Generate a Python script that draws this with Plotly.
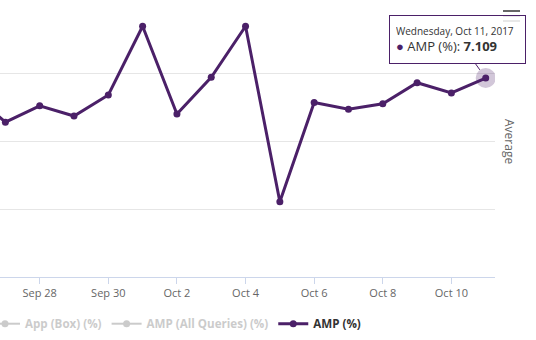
import plotly.graph_objects as go

# ---- data ----
dates = ["2017-09-26", "2017-09-27", "2017-09-28", "2017-09-29", "2017-09-30",
         "2017-10-01", "2017-10-02", "2017-10-03", "2017-10-04", "2017-10-05",
         "2017-10-06", "2017-10-07", "2017-10-08", "2017-10-09", "2017-10-10",
         "2017-10-11"]
amp_pct = [6.90, 6.46, 6.70, 6.55, 6.86, 7.87, 6.58, 7.12, 7.87, 5.29,
           6.75, 6.65, 6.73, 7.04, 6.89, 7.109]
tick_dates = ["2017-09-28", "2017-09-30", "2017-10-02", "2017-10-04",
              "2017-10-06", "2017-10-08", "2017-10-10"]
tick_labels = ["Sep 28", "Sep 30", "Oct 2", "Oct 4", "Oct 6", "Oct 8", "Oct 10"]
series_names = ["App (Box) (%)", "AMP (All Queries) (%)", "AMP (%)"]

PURPLE = "#4b2068"
FONT = "Open Sans"
PLOT_W, PLOT_H = 495, 273  # plot area in px (margins below)

fig = go.Figure()

# legend-only (hidden) series
for nm in series_names[:2]:
    fig.add_trace(go.Scatter(
        x=[dates[0]], y=[None],
        name="<span style='color:#999999'>%s</span>" % nm,
        mode="lines+markers", visible="legendonly",
        line=dict(color="#999999", width=2), marker=dict(color="#999999", size=7),
    ))

# hover halo on last point
fig.add_trace(go.Scatter(
    x=[dates[-1]], y=[amp_pct[-1]], mode="markers", showlegend=False,
    marker=dict(size=20, color="rgba(75,32,104,0.25)"), hoverinfo="skip",
))

fig.add_trace(go.Scatter(
    x=dates, y=amp_pct, name=series_names[2], mode="lines+markers",
    line=dict(color=PURPLE, width=3), marker=dict(color=PURPLE, size=7),
))

# axis scale: one gridline unit per 68 px; bottom of plot at 4.183
y0 = 4.183
fig.update_yaxes(
    range=[y0, y0 + 4 + 1 / 68], tick0=y0, dtick=1, showticklabels=False,
    showgrid=True, gridcolor="#e6e6e6", gridwidth=1, zeroline=False,
    showline=False, fixedrange=True,
)
fig.update_xaxes(
    type="date",
    range=["2017-09-26 20:14", "2017-10-11 06:30"],
    tickvals=tick_dates, ticktext=tick_labels,
    showgrid=False, zeroline=False,
    showline=True, linecolor="#ccd6eb", linewidth=1,
    ticks="outside", ticklen=6, tickcolor="#ccd6eb",
    tickfont=dict(family=FONT, size=11, color="#666666"),
)

# hamburger menu icon (decoration)
for yy in [11, 16, 21]:
    fig.add_shape(type="line", xref="paper", yref="paper",
                  x0=503 / PLOT_W, x1=520 / PLOT_W,
                  y0=(277 - yy) / PLOT_H, y1=(277 - yy) / PLOT_H,
                  line=dict(color="#666666", width=2))

# tooltip mimic
fig.add_annotation(
    x=dates[-1], y=amp_pct[-1], xref="x", yref="y",
    text=("<span style='font-size:10px;color:#333333'>Wednesday, Oct 11, 2017</span><br>"
          "<span style='color:%s'>●</span> AMP (%%): <b>%.3f</b>" % (PURPLE, amp_pct[-1])),
    showarrow=True, ax=-28, ay=-39, arrowhead=0, arrowwidth=1, arrowcolor=PURPLE,
    standoff=10, align="left", width=123, height=35,
    bordercolor=PURPLE, borderwidth=1, borderpad=6, bgcolor="rgba(255,255,255,0.85)",
    font=dict(family=FONT, size=13, color="#333333"),
)

# "Average" side label
fig.add_annotation(
    x=510 / PLOT_W, y=(277 - 141) / PLOT_H, xref="paper", yref="paper",
    text="Average", showarrow=False, textangle=90,
    xanchor="center", yanchor="middle",
    font=dict(family=FONT, size=12, color="#666666"),
)

fig.update_layout(
    width=536, height=340,
    margin=dict(l=0, r=41, t=4, b=63, autoexpand=False),
    paper_bgcolor="white", plot_bgcolor="white",
    showlegend=True,
    legend=dict(orientation="h", x=-15 / PLOT_W, xanchor="left",
                y=-0.118, yanchor="top",
                font=dict(family=FONT, size=11.6, color="#333333", weight="bold"),
                itemwidth=30, tracegroupgap=0),
    hovermode="closest",
)

fig.write_html("out.html")
